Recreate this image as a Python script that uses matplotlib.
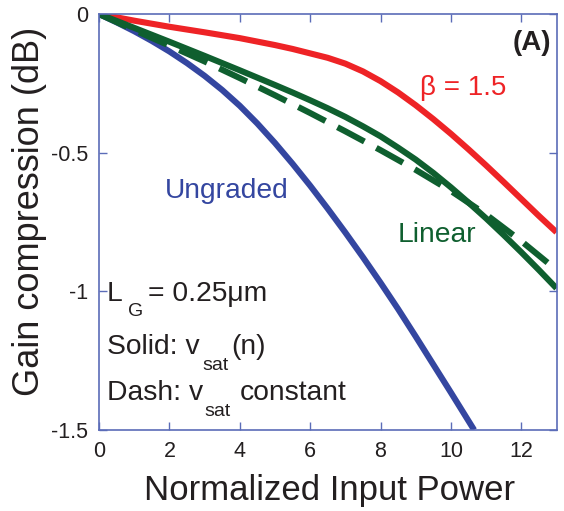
import matplotlib
matplotlib.use("Agg")
import matplotlib.pyplot as plt

plt.rcParams['font.family'] = ['Liberation Sans', 'DejaVu Sans']

# Data
x_ungraded = [0, 0.5, 1, 1.5, 2, 2.5, 3, 3.5, 4, 4.5, 5, 5.5, 6, 6.5, 7, 7.5, 8, 8.5, 9, 9.5, 10, 10.66]
y_ungraded = [0, -0.03, -0.062, -0.097, -0.135, -0.177, -0.223, -0.274, -0.331, -0.395, -0.465, -0.54,
              -0.619, -0.702, -0.788, -0.877, -0.969, -1.064, -1.163, -1.264, -1.365, -1.5]

x_beta = [0, 1, 2, 3, 4, 5, 5.5, 6, 6.5, 7, 7.5, 8, 8.5, 9, 9.5, 10, 10.5, 11, 11.5, 12, 12.5, 13]
y_beta = [0, -0.024, -0.046, -0.066, -0.087, -0.112, -0.126, -0.142, -0.158, -0.179, -0.207, -0.242,
          -0.283, -0.329, -0.379, -0.432, -0.488, -0.546, -0.606, -0.667, -0.728, -0.787]

x_linear = [0, 1, 2, 3, 4, 5, 5.5, 6, 6.5, 7, 7.5, 8, 8.5, 9, 9.5, 10, 10.5, 11, 11.5, 12, 12.5, 13]
y_linear_solid = [0, -0.05, -0.1, -0.151, -0.203, -0.256, -0.283, -0.311, -0.34, -0.371, -0.405, -0.441,
                  -0.482, -0.525, -0.573, -0.625, -0.68, -0.737, -0.797, -0.859, -0.923, -0.989]

x_linear_dash = [0, 1, 2, 3, 4, 5, 6, 7, 8, 9, 10, 11, 12, 13]
y_linear_dash = [0, -0.058, -0.114, -0.171, -0.231, -0.293, -0.357, -0.423, -0.491, -0.562, -0.638, -0.723, -0.819, -0.923]

xticks = [0, 2, 4, 6, 8, 10, 12]
yticks = [0, -0.5, -1, -1.5]
ytick_labels = ['0', '-0.5', '-1', '-1.5']

BLUE = '#3446a0'
RED = '#ee2326'
GREEN = '#0f5f2f'
SPINE = '#5b6cb8'
TXT = '#231f20'

W, H = 564, 511
fig = plt.figure(figsize=(W / 100, H / 100), dpi=100)
ax = fig.add_axes([99 / W, 81 / H, 457.5 / W, 416 / H])

lw = 4.4
ax.plot(x_ungraded, y_ungraded, color=BLUE, lw=lw, solid_capstyle='butt', solid_joinstyle='round')
ax.plot(x_beta, y_beta, color=RED, lw=lw, solid_capstyle='butt', solid_joinstyle='round')
ax.plot(x_linear, y_linear_solid, color=GREEN, lw=lw, solid_capstyle='butt', solid_joinstyle='round')
ax.plot(x_linear_dash, y_linear_dash, color=GREEN, lw=lw, dashes=(5, 2.2))

ax.set_xlim(0, 13)
ax.set_ylim(-1.5, 0)
ax.set_xticks(xticks)
ax.set_yticks(yticks)
ax.set_yticklabels(ytick_labels)
ax.tick_params(direction='in', length=6, width=1, color=SPINE, labelsize=15.5,
               labelcolor=TXT, top=True, right=True, pad=8)
for s in ax.spines.values():
    s.set_color(SPINE)
    s.set_linewidth(1.2)

fig.text(329.5 / W, (H - 500) / H, 'Normalized Input Power', fontsize=25, color=TXT,
         ha='center', va='baseline')
fig.text(30 / W, (H - 211) / H, 'Gain compression (dB)', fontsize=26, color=TXT,
         ha='center', va='center', rotation=90)

ax.text(3.62, -0.665, 'Ungraded', color=BLUE, fontsize=20.3, ha='center', va='baseline')
ax.text(10.36, -0.292, '\u03b2 = 1.5', color=RED, fontsize=20, ha='center', va='baseline')
ax.text(9.615, -0.821, 'Linear', color=GREEN, fontsize=20.3, ha='center', va='baseline')
ax.text(12.85, -0.103, '(A)', color=TXT, fontsize=20, fontweight='bold', ha='right', va='center')

tr = ax.transAxes
def px(x, y):
    return ((x - 99) / 457.5, (430 - y) / 416)

FS = 20.3
SFS = 14
ax.text(*px(107, 301), 'L', transform=tr, fontsize=FS, color=TXT, ha='left', va='baseline')
ax.text(*px(128, 316), 'G', transform=tr, fontsize=SFS, color=TXT, ha='left', va='baseline')
ax.text(*px(148, 301), '= 0.25\u03bcm', transform=tr, fontsize=FS, color=TXT, ha='left', va='baseline')

ax.text(*px(107, 354), 'Solid: v', transform=tr, fontsize=FS, color=TXT, ha='left', va='baseline')
ax.text(*px(202, 370), 'sat', transform=tr, fontsize=SFS, color=TXT, ha='left', va='baseline')
ax.text(*px(231, 354), '(n)', transform=tr, fontsize=FS, color=TXT, ha='left', va='baseline')

ax.text(*px(107, 400), 'Dash: v', transform=tr, fontsize=FS, color=TXT, ha='left', va='baseline')
ax.text(*px(204, 416), 'sat', transform=tr, fontsize=SFS, color=TXT, ha='left', va='baseline')
ax.text(*px(240, 400), 'constant', transform=tr, fontsize=FS, color=TXT, ha='left', va='baseline')

fig.savefig('out.png', dpi=100)
